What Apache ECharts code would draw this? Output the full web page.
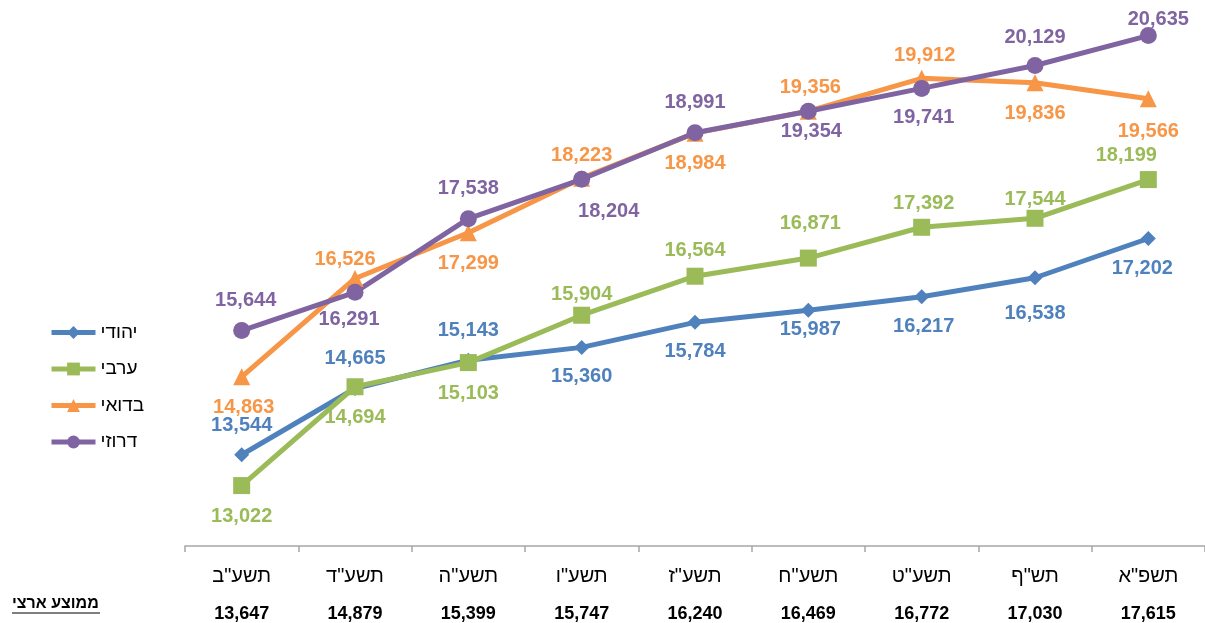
<!DOCTYPE html>
<html>
<head>
<meta charset="utf-8">
<script src="https://cdn.jsdelivr.net/npm/echarts@6/dist/echarts.min.js"></script>
<style>
html,body{margin:0;padding:0;background:#fff;}
#c{width:1205px;height:623px;}
</style>
</head>
<body>
<div id="c"></div>
<script>
const categories = ['תשע"ב','תשע"ד','תשע"ה','תשע"ו','תשע"ז','תשע"ח','תשע"ט','תש"ף','תשפ"א'];
const jewish  = [13544,14665,15143,15360,15784,15987,16217,16538,17202];
const arab    = [13022,14694,15103,15904,16564,16871,17392,17544,18199];
const bedouin = [14863,16526,17299,18223,18984,19356,19912,19836,19566];
const druze   = [15644,16291,17538,18204,18991,19354,19741,20129,20635];
const nationalAvg = [13647,14879,15399,15747,16240,16469,16772,17030,17615];
const seriesNames = ['יהודי','ערבי','בדואי','דרוזי'];
const nationalLabel = 'ממוצע ארצי';

// label placement (layout only)
const posJ = ['top','top','top','bottom','bottom','bottom','bottom','bottom','bottom'];
const posA = ['bottom','bottom','bottom','top','top','top','top','top','top'];
const posB = ['bottom','top','bottom','top','bottom','top','top','bottom','bottom'];
const posD = ['top','bottom','top','bottom','top','bottom','bottom','top','top'];
const offJ = [[0,0],[0,0],[0,0],[0,0],[0,0],[2,-10],[2,0],[0,6],[-6,0]];
const offA = [[0,0],[0,0],[0,0],[0,10],[0,5],[2,-4],[2,7],[0,12],[-22,6]];
const offB = [[2,0],[-10,12],[0,0],[0,8],[0,0],[2,7],[3,8],[0,0],[0,2]];
const offD = [[4,0],[-6,-3],[0,0],[27,2],[0,0],[3,-10],[2,-1],[0,2],[10,14]];

const fmt = v => v.toLocaleString('en-US');

function mk(name, vals, color, symbol, size, pos, off){
  return {
    name, type:'line', data: vals.map((v,i)=>({value:v, label:{position:pos[i], offset:off[i]}})),
    symbol, symbolSize:size,
    lineStyle:{color, width:5},
    itemStyle:{color},
    label:{show:true, color, fontSize:20, fontWeight:'bold', fontFamily:'Liberation Sans, Arial, sans-serif',
      distance:12, formatter:p=>fmt(p.value)},
    z: 2
  };
}

const chart = echarts.init(document.getElementById('c'));
chart.setOption({
  animation:false,
  grid:{left:185, top:14, width:1025, height:532},
  legend:{
    orient:'vertical', left:44, top:318, itemWidth:44, itemHeight:16, itemGap:17.5,
    data: seriesNames,
    lineStyle:{width:5},
    textStyle:{fontSize:19, color:'#000', fontFamily:'Liberation Sans, Arial, sans-serif', lineHeight:19}
  },
  xAxis:{
    type:'category', data:categories, boundaryGap:true,
    axisLine:{lineStyle:{color:'#a6a6a6', width:1.5}},
    axisTick:{show:true, length:6, lineStyle:{color:'#a6a6a6', width:1.5}},
    axisLabel:{
      margin:11, interval:0,
      formatter:(v,i)=>'{c|'+v+'}\n{n|'+fmt(nationalAvg[i])+'}',
      rich:{
        c:{fontSize:20, color:'#000', lineHeight:38, fontFamily:'Liberation Sans, Arial, sans-serif'},
        n:{fontSize:18, color:'#000', fontWeight:'bold', lineHeight:38, fontFamily:'Liberation Sans, Arial, sans-serif'}
      }
    }
  },
  yAxis:{type:'value', min:12000, max:21000, show:false, splitLine:{show:false}},
  graphic:[
    {type:'text', left:12, top:596, style:{text:nationalLabel, fontSize:16, fontWeight:'bold', fill:'#000', fontFamily:'Liberation Sans, Arial, sans-serif'}},
    {type:'line', shape:{x1:12, y1:613, x2:100, y2:613}, style:{stroke:'#000', lineWidth:1.2}}
  ],
  series:[
    mk(seriesNames[0], jewish, '#4f81bd', 'diamond', 15, posJ, offJ),
    mk(seriesNames[1], arab, '#9bbb59', 'rect', 17, posA, offA),
    mk(seriesNames[2], bedouin, '#f79646', 'triangle', 17, posB, offB),
    mk(seriesNames[3], druze, '#8064a2', 'circle', 17, posD, offD)
  ]
});
</script>
</body>
</html>
